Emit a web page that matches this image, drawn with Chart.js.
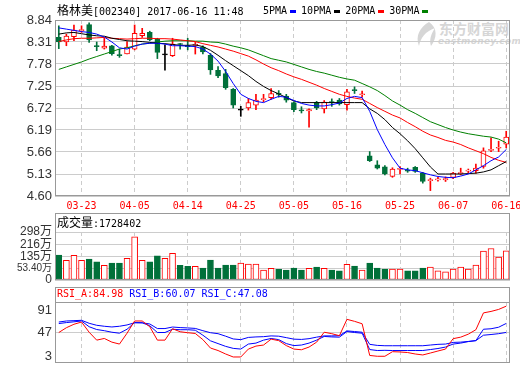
<!DOCTYPE html>
<html>
<head>
<meta charset="utf-8">
<script src="https://cdn.jsdelivr.net/npm/chart.js@4.4.0/dist/chart.umd.min.js"></script>
<style>
  body { margin: 0; background: #fff; }
  #wrap { position: relative; width: 520px; height: 365px; overflow: hidden; }
  canvas { position: absolute; left: 0; }
  .txt { position: absolute; white-space: nowrap; font: 10px "DejaVu Sans Mono", monospace; line-height: 14px; color: #000; z-index: 2; }
  .cjk { font-family: "Noto Sans CJK SC"; font-size: 12px; }
  .txt i { display: inline-block; width: 6px; height: 3px; margin: 0 5px 0 3px; vertical-align: middle; }
  .wm { position: absolute; color: #d6d6d6; white-space: nowrap; }
</style>
</head>
<body>
<div id="wrap">
  <svg class="wm" style="left:414px;top:21px" width="24" height="26"><path d="M15 1 C6 6 1 15 5 25 C7 16 11 11 21 7 C17 13 15 19 17 25 C23 17 24 7 15 1 Z" fill="#d6d6d6"/></svg>
  <div class="wm" style="left:439px;top:19px;font:bold 14px 'Noto Sans CJK SC';line-height:18px">东方财富网</div>
  <div class="wm" style="left:438px;top:36px;font:bold italic 9px 'DejaVu Sans';line-height:10px;letter-spacing:0.3px">eastmoney.com</div>

  <canvas id="main" width="520" height="213" style="top:0"></canvas>
  <canvas id="vol" width="520" height="74" style="top:213px"></canvas>
  <canvas id="rsi" width="520" height="78" style="top:287px"></canvas>

  <div class="txt" style="left:57px;top:3px"><span class="cjk">格林美</span>[002340] 2017-06-16 11:48</div>
  <div class="txt" id="legend" style="left:263px;top:4px"></div>
  <div class="txt" id="volTitle" style="left:57px;top:215px"></div>
  <div class="txt" id="rsiTitle" style="left:57px;top:287px"></div>
</div>
<script>
// trading days shown (03-20 .. 06-16)
const dates = ['03-20','03-21','03-22','03-23','03-24','03-27','03-28','03-29','03-30','03-31',
  '04-05','04-06','04-07','04-10','04-11','04-12','04-13','04-14','04-17','04-18',
  '04-19','04-20','04-21','04-24','04-25','04-26','04-27','04-28','05-02','05-03',
  '05-04','05-05','05-08','05-09','05-10','05-11','05-12','05-15','05-16','05-17',
  '05-18','05-19','05-22','05-23','05-24','05-25','05-26','05-31','06-01','06-02',
  '06-05','06-06','06-07','06-08','06-09','06-12','06-13','06-14','06-15','06-16'];
const tickDates = ['03-23','04-05','04-14','04-25','05-05','05-16','05-25','06-07','06-16'];

// daily candles
const opens  = [8.42,8.31,8.44,8.58,8.73,8.22,8.16,8.22,8.00,8.02, 8.14,8.46,8.54,8.38,8.00,7.98,8.27,8.22,8.23,8.19,
                7.99,7.63,7.55,7.17,6.67,6.72,6.79,6.92,6.97,7.07, 7.01,6.85,6.67,6.65,6.85,6.70,6.87,6.91,6.80,7.16,
                7.04,5.57,5.35,5.30,5.07,5.24,5.22,5.29,5.15,4.97, 4.99,4.99,5.05,5.14,5.20,5.21,5.31,5.70,5.75,5.85];
const highs  = [8.70,8.50,8.72,8.70,8.77,8.31,8.40,8.23,8.14,8.32, 8.72,8.64,8.57,8.40,8.24,8.40,8.28,8.40,8.30,8.22,
                8.03,7.72,7.65,7.19,6.76,6.95,7.05,7.05,7.19,7.14, 7.05,6.87,6.75,6.70,6.88,6.90,6.94,6.95,7.17,7.23,
                7.13,5.67,5.45,5.33,5.28,5.31,5.27,5.31,5.17,5.03, 5.05,5.06,5.17,5.27,5.25,5.37,5.76,6.00,5.92,6.16];
const lows   = [8.15,8.22,8.34,8.54,8.30,8.10,8.14,7.99,7.94,8.02, 8.12,8.42,8.34,7.91,7.63,7.96,8.14,8.12,8.02,8.02,
                7.53,7.45,7.17,6.72,6.52,6.67,6.68,6.87,6.93,6.98, 6.86,6.63,6.60,6.26,6.68,6.60,6.76,6.79,6.67,7.07,
                6.98,5.43,5.25,5.11,5.05,5.13,5.17,5.17,4.91,4.73, 4.96,4.95,5.02,5.11,5.16,5.15,5.27,5.67,5.67,5.76];
const closes = [8.31,8.45,8.60,8.61,8.36,8.20,8.21,8.03,7.98,8.19, 8.52,8.52,8.36,8.06,8.00,8.26,8.25,8.20,8.25,8.07,
                7.64,7.49,7.21,6.79,6.67,6.85,6.91,6.94,7.07,7.05, 6.91,6.68,6.65,6.68,6.72,6.86,6.85,6.82,7.11,7.14,
                7.06,5.45,5.27,5.13,5.25,5.26,5.20,5.19,4.95,4.99, 5.01,5.02,5.15,5.16,5.22,5.27,5.69,5.72,5.77,6.02];

// moving averages
const ma5  = [8.65,8.62,8.59,8.56,8.54,8.50,8.43,8.31,8.17,8.14, 8.21,8.26,8.28,8.28,8.26,8.22,8.22,8.21,8.20,8.14,
              8.02,7.85,7.60,7.31,7.05,6.95,6.88,6.85,6.93,7.00, 6.98,6.90,6.83,6.79,6.77,6.77,6.80,6.84,6.95,7.00,
              6.97,6.64,6.20,5.84,5.52,5.27,5.23,5.21,5.16,5.11, 5.07,5.05,5.04,5.08,5.13,5.23,5.33,5.45,5.54,5.72];
const ma10 = [8.50,8.53,8.54,8.51,8.48,8.46,8.45,8.40,8.37,8.34, 8.33,8.32,8.30,8.28,8.27,8.25,8.23,8.23,8.24,8.20,
              8.11,7.99,7.86,7.74,7.62,7.50,7.36,7.24,7.14,7.06, 6.97,6.89,6.85,6.85,6.85,6.85,6.85,6.85,6.85,6.85,
              6.85,6.70,6.59,6.44,6.25,6.10,5.93,5.74,5.52,5.30, 5.13,5.13,5.13,5.13,5.14,5.15,5.18,5.23,5.33,5.43];
const ma20 = [8.32,8.36,8.39,8.40,8.40,8.41,8.42,8.40,8.39,8.38, 8.39,8.40,8.40,8.39,8.39,8.38,8.36,8.34,8.32,8.27,
              8.23,8.19,8.14,8.09,8.03,7.97,7.88,7.78,7.69,7.62, 7.54,7.47,7.41,7.34,7.27,7.19,7.12,7.05,7.00,6.96,
              6.93,6.83,6.73,6.64,6.55,6.48,6.37,6.27,6.16,6.07, 6.01,5.94,5.90,5.84,5.76,5.69,5.62,5.53,5.46,5.41];
const ma30 = [7.65,7.71,7.77,7.83,7.90,7.96,8.02,8.08,8.14,8.17, 8.22,8.26,8.28,8.31,8.33,8.34,8.34,8.34,8.33,8.33,
              8.31,8.30,8.26,8.21,8.17,8.12,8.05,7.98,7.91,7.87, 7.83,7.77,7.71,7.65,7.60,7.56,7.51,7.46,7.42,7.39,
              7.31,7.23,7.14,7.02,6.89,6.79,6.68,6.59,6.49,6.39, 6.32,6.25,6.19,6.14,6.10,6.07,6.04,6.02,5.97,5.88];
const maNames  = ['5PMA','10PMA','20PMA','30PMA'];
const maColors = ['#0000ff','#000000','#ff0000','#008000'];

// volume, in 万 (10k shares)
const volumes = [144,109,142,109,117,98,75,90,90,122, 265,109,98,138,122,155,75,69,69,57,
                 111,57,77,77,90,83,83,44,55,48, 44,57,44,55,64,55,44,38,82,71,
                 44,90,57,50,50,50,38,38,57,64, 38,31,50,64,50,77,171,188,131,172.8402];

// RSI lines
const rsiA = [47,53.9,58.9,62.1,47.4,36,38.4,33.1,30.3,46, 63.6,63.6,55.3,36,36,52.4,48.1,46.7,45.6,36.7,
              24.6,21,16,11.7,11.7,23.1,27.4,28.9,37.4,35.3, 28.1,23.1,22.1,26,33.1,47.4,45.3,42.4,66,63.1,
              59.6,13.9,12.7,12.7,19.3,18.9,18.1,16,14.6,17.4, 20.3,23.1,38.1,40.3,44.6,51,75.3,77.4,80.3,84.98];
const rsiB = [59.9,61.3,62.4,63.6,55.3,51.3,49.6,47.4,46,51.7, 61.3,61,56.7,47,47,51.7,51,51,50.3,43.1,
              35,31,27,24.1,23.1,30.3,31.7,36,38.4,36.7, 31,28.1,28.9,31.7,36,41.3,40.6,40.3,48.4,47,
              46,22.4,21,21.3,21,21,21,21,21,22.4, 23.9,26,30.3,31.7,33.9,35.3,51.7,52.4,54.6,60.07];
const rsiC = [62.1,63.6,64.1,64.6,60.3,57.4,56,55,56,57.9, 61,61,59.3,52.7,52.7,54.9,54.1,53.6,52.9,49.6,
              46.7,45.3,41.7,37.7,36.7,39.9,40.6,41,42.1,41.7, 39.6,37.4,37,38.1,40.3,42.1,42.1,42.4,49.3,48.4,
              47.4,29.9,28.4,27.9,27.9,27.9,27.9,27.9,27.9,28.9, 29.9,30.3,32.7,33.1,34.1,35.3,43.1,44.1,45.3,47.08];

// axis ticks
const priceTicks = [4.60,5.13,5.66,6.19,6.72,7.25,7.78,8.31,8.84];
// the volume panel's floor sits one grid step below 53.40万 and is labelled 0
const volFloor = -22.8;
const volTicks = [volFloor,53.4,135,216,298];
const volTickLabels = ['0','53.40万','135万','216万','298万'];
const rsiTicks = [3,47,91];

const RED = '#ff0000', GREEN = '#00703a', GRID = '#cccccc', FRAME = '#999999';
const labelFamily = '"Liberation Sans", "Noto Sans CJK SC", sans-serif';

Chart.defaults.animation = false;
Chart.defaults.events = [];
Chart.defaults.plugins.legend.display = false;
Chart.defaults.plugins.tooltip.enabled = false;

function candleColor(i) {
  if (closes[i] > opens[i]) return RED;
  if (closes[i] < opens[i]) return GREEN;
  return '#000000';
}

function volLabel(v) {
  const k = volTicks.indexOf(v);
  return k < 0 ? '' : volTickLabels[k];
}

// fixed axis size; labels may hang over the edges instead of shrinking the plot
function fixSize(s, size) {
  if (s.isHorizontal()) s.height = size; else s.width = size;
  s.paddingLeft = s.paddingRight = s.paddingTop = s.paddingBottom = 0;
}

// shared x axis: one band per trading day, dashed lines at the dated ticks
function xAxis(showLabels) {
  return {
    offset: true,
    grid: { offset: false, color: GRID, drawTicks: false },
    border: { display: false, dash: [4, 3] },
    ticks: {
      display: showLabels, autoSkip: false, maxRotation: 0, padding: 4,
      color: RED, font: { family: '"DejaVu Sans Mono", monospace', size: 10 }
    },
    afterBuildTicks: s => { s.ticks = s.ticks.filter(t => tickDates.includes(dates[t.value])); },
    afterFit: s => fixSize(s, showLabels ? 17 : 0)
  };
}

// all three panels share the same plot columns (55..510)
function panelLayout(top, bottom) {
  return { autoPadding: false, padding: { top: top, right: 10, left: 0, bottom: bottom } };
}

// gray box round each panel; title rows sit inside the box
const framePlugin = {
  id: 'frame',
  afterDraw(chart, args, opts) {
    const { ctx, chartArea: a } = chart;
    const top = opts.fromTop ? 0.5 : Math.round(a.top) + 0.5;
    const l = Math.round(a.left) + 0.5, r = Math.round(a.right) - 0.5, b = Math.round(a.bottom) - 0.5;
    ctx.save();
    ctx.strokeStyle = FRAME;
    ctx.lineWidth = 1;
    ctx.strokeRect(l, top, r - l, b - top);
    if (opts.sep) {
      ctx.beginPath();
      ctx.moveTo(l, Math.round(a.top) + 0.5);
      ctx.lineTo(r, Math.round(a.top) + 0.5);
      ctx.stroke();
    }
    ctx.restore();
  }
};

// RSI labels: the edge labels are kept inside the panel height
const insetLabels = {
  id: 'insetLabels',
  afterDraw(chart) {
    const { ctx, chartArea: a, scales: { y } } = chart;
    ctx.save();
    ctx.font = '13px "Liberation Sans"';
    ctx.fillStyle = '#333';
    ctx.textAlign = 'right';
    ctx.textBaseline = 'middle';
    rsiTicks.forEach(v => {
      const py = Math.min(Math.max(y.getPixelForValue(v), a.top + 8), a.bottom - 7);
      ctx.fillText(String(v), a.left - 3, py);
    });
    ctx.restore();
  }
};

document.addEventListener('DOMContentLoaded', function () {
  // header texts
  document.getElementById('legend').innerHTML =
    maNames.map((n, k) => `${n}<i style="background:${maColors[k]}"></i>`).join('');
  document.getElementById('volTitle').innerHTML =
    `<span class="cjk">成交量</span>:${Math.round(volumes[volumes.length - 1] * 10000)}`;
  const last = a => a[a.length - 1].toFixed(2);
  document.getElementById('rsiTitle').innerHTML =
    `<span style="color:${RED}">RSI_A:${last(rsiA)}</span> ` +
    `<span style="color:#0000ff">RSI_B:${last(rsiB)}</span> ` +
    `<span style="color:#0000ff">RSI_C:${last(rsiC)}</span>`;

  const colors = dates.map((d, i) => candleColor(i));
  const upDay = dates.map((d, i) => closes[i] >= opens[i]);

  // price panel
  new Chart(document.getElementById('main'), {
    type: 'bar',
    data: {
      labels: dates,
      datasets: [
        ...[ma5, ma10, ma20, ma30].map((m, k) => ({
          type: 'line', label: maNames[k], data: m, order: 0,
          borderColor: maColors[k], borderWidth: 1, pointRadius: 0, tension: 0
        })),
        {
          label: 'body', data: opens.map((o, i) => [o, closes[i]]), order: 1,
          grouped: false, barThickness: 5, minBarLength: 1,
          backgroundColor: colors.map(c => c === RED ? '#ffffff' : c),
          borderColor: colors, borderWidth: 1, borderSkipped: false
        },
        {
          label: 'wick', data: lows.map((l, i) => [l, highs[i]]), order: 2,
          grouped: false, barThickness: 1, backgroundColor: colors, borderWidth: 0
        }
      ]
    },
    options: {
      responsive: false,
      layout: panelLayout(20, 0),
      scales: {
        x: xAxis(true),
        y: {
          min: 4.60, max: 8.84,
          afterBuildTicks: s => { s.ticks = priceTicks.map(v => ({ value: v })); },
          ticks: { autoSkip: false, callback: v => v.toFixed(2), color: '#333', font: { family: labelFamily, size: 13 }, padding: 3 },
          grid: { color: GRID, drawTicks: false },
          border: { display: false },
          afterFit: s => fixSize(s, 55)
        }
      },
      plugins: { frame: {} }
    },
    plugins: [framePlugin]
  });

  // volume panel
  new Chart(document.getElementById('vol'), {
    type: 'bar',
    data: {
      labels: dates,
      datasets: [{
        label: 'volume', data: volumes, base: volFloor, barThickness: 6,
        backgroundColor: upDay.map(u => u ? '#ffffff' : GREEN),
        borderColor: upDay.map(u => u ? RED : GREEN),
        borderWidth: 1, borderSkipped: false
      }]
    },
    options: {
      responsive: false,
      layout: panelLayout(19, 7),
      scales: {
        x: xAxis(false),
        y: {
          min: volFloor, max: 298,
          afterBuildTicks: s => { s.ticks = volTicks.map(v => ({ value: v })); },
          ticks: {
            autoSkip: false, callback: v => volLabel(v), color: '#333', padding: 3,
            // the long label is set smaller so it fits the axis column
            font: c => ({ family: labelFamily, size: c.tick && volLabel(c.tick.value).length > 4 ? 10 : 12 })
          },
          grid: { color: GRID, drawTicks: false },
          border: { display: false },
          afterFit: s => fixSize(s, 55)
        }
      },
      plugins: { frame: { fromTop: true } }
    },
    plugins: [framePlugin]
  });

  // RSI panel
  new Chart(document.getElementById('rsi'), {
    type: 'line',
    data: {
      labels: dates,
      datasets: [rsiA, rsiB, rsiC].map((d, k) => ({
        label: ['RSI_A','RSI_B','RSI_C'][k], data: d,
        borderColor: k === 0 ? RED : '#0000ff', borderWidth: 1, pointRadius: 0, tension: 0
      }))
    },
    options: {
      responsive: false,
      layout: panelLayout(15, 2),
      scales: {
        x: xAxis(false),
        y: {
          min: 3, max: 91,
          afterBuildTicks: s => { s.ticks = rsiTicks.map(v => ({ value: v })); },
          ticks: { display: false },
          grid: { color: c => c.tick && c.tick.value === 47 ? GRID : 'rgba(0,0,0,0)', drawTicks: false },
          border: { display: false },
          afterFit: s => fixSize(s, 55)
        }
      },
      plugins: { frame: { fromTop: true, sep: true } }
    },
    plugins: [framePlugin, insetLabels]
  });
});
</script>
</body>
</html>
